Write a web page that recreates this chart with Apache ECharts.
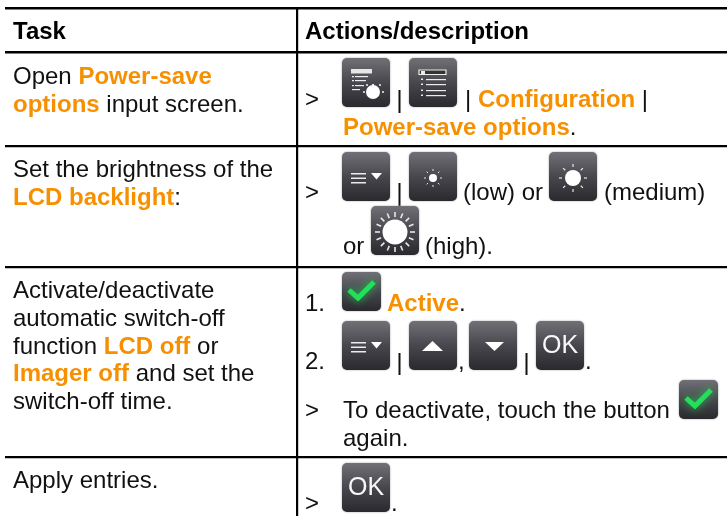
<!DOCTYPE html>
<html>
<head>
<meta charset="utf-8">
<style>
  html, body { margin: 0; padding: 0; background: #fff; }
  #main { width: 727px; height: 516px; }
</style>
<script src="https://cdn.jsdelivr.net/npm/echarts@6/dist/echarts.min.js"></script>
</head>
<body>
<div id="main"></div>
<script>
// table text, *...* marks the orange bold words
const headers = ['Task', 'Actions/description'];
const taskRow1 = ['Open *Power-save*', '*options* input screen.'];
const taskRow2 = ['Set the brightness of the', '*LCD backlight*:'];
const taskRow3 = ['Activate/deactivate', 'automatic switch-off', 'function *LCD off* or', '*Imager off* and set the', 'switch-off time.'];
const taskRow4 = ['Apply entries.'];
const actionRow1 = ['| *Configuration* |', '*Power-save options*.'];
const actionRow2 = ['(low) or', '(medium)', 'or', '(high).'];
const actionRow3 = ['1.', '*Active*.', '2.', 'To deactivate, touch the button', 'again.'];

const FONT = '"Liberation Sans", Arial, sans-serif';
const SIZE = 24;
const ORANGE = '#f79000';
const TEXT_COLOR = '#111';

const measure = document.createElement('canvas').getContext('2d');
const elements = [];

function textEl(str, x, baseline, bold, color, size) {
    const fs = size || SIZE;
    elements.push({
        type: 'text', x: x, y: baseline - fs * 0.27, silent: true,
        style: {
            text: str, fontFamily: FONT, fontSize: fs, fontWeight: bold ? 'bold' : 'normal',
            fill: color || TEXT_COLOR, verticalAlign: 'middle', align: 'left'
        }
    });
}

// one line, split in runs on the * signs
function line(str, x, baseline) {
    let cx = x;
    str.split('*').forEach(function (run, i) {
        if (!run) return;
        const bold = i % 2 === 1;
        measure.font = (bold ? 'bold ' : '') + SIZE + 'px "Liberation Sans"';
        textEl(run, cx, baseline, bold, bold ? ORANGE : TEXT_COLOR);
        cx += measure.measureText(run).width;
    });
}

function rule(x, y, w, h) {
    elements.push({ type: 'rect', silent: true, shape: { x: x, y: y, width: w, height: h }, style: { fill: '#000' } });
}

function sep(x, y1, y2) {
    elements.push({ type: 'rect', silent: true, shape: { x: x, y: y1, width: 2, height: y2 - y1 }, style: { fill: '#111' } });
}

const white = { fill: '#fff' };
function bar(x, y, w, h, op) {
    return { type: 'rect', shape: { x: x, y: y, width: w, height: h }, style: { fill: '#fff', opacity: op == null ? 0.9 : op } };
}
function sun(r, r1, r2, n, lw) {
    const out = [{ type: 'circle', shape: { cx: 24, cy: 26, r: r }, style: white }];
    for (let i = 0; i < n; i++) {
        const a = i * 2 * Math.PI / n;
        out.push({
            type: 'line',
            shape: { x1: 24 + r1 * Math.cos(a), y1: 26 + r1 * Math.sin(a), x2: 24 + r2 * Math.cos(a), y2: 26 + r2 * Math.sin(a) },
            style: { stroke: '#e8e8e8', lineWidth: lw }
        });
    }
    return out;
}
function menuGlyph() {
    return [bar(9, 21, 15, 1.5), bar(9, 25.5, 15, 1.5), bar(9, 30, 15, 1.5),
        { type: 'polygon', shape: { points: [[29, 21], [40, 21], [34.5, 27.5]] }, style: white }];
}
function okGlyph() {
    return [{
        type: 'text', x: 24, y: 25,
        style: { text: 'OK', fontFamily: FONT, fontSize: 25, fill: '#f8f8f8', align: 'center', verticalAlign: 'middle' }
    }];
}
function checkGlyph() {
    return [{
        type: 'polyline', shape: { points: [[7, 18], [16, 26], [32, 10]] },
        style: { stroke: '#22e05a', lineWidth: 5, fill: 'none', shadowBlur: 9, shadowColor: '#1fc24e' }
    }];
}
function pointerGlyph() {
    return [bar(9, 11, 21, 4.5, 0.85), bar(13, 18, 13, 1.2), bar(10, 18, 2, 1.2), bar(13, 22, 11, 1.2), bar(10, 22, 2, 1.2),
        bar(13, 27, 9, 1.2), bar(10, 27, 2, 1.2), bar(10, 31, 8, 1.2),
        { type: 'circle', shape: { cx: 31, cy: 34, r: 7 }, style: white },
        bar(30, 26, 2, 8), bar(24, 26, 2, 2, 0.7), bar(37, 26, 2, 2, 0.7), bar(21, 33, 2, 2, 0.7), bar(40, 33, 2, 2, 0.7)];
}
function listGlyph() {
    const out = [{ type: 'rect', shape: { x: 10, y: 12, width: 27, height: 4.5 }, style: { fill: '#333', stroke: '#eee', lineWidth: 1.2 } }, bar(12, 13, 4, 3)];
    [21, 26, 32, 37].forEach(function (y) {
        out.push(bar(17, y, 20, 1.2), bar(12, y - 0.4, 2, 1.5));
    });
    return out;
}

function icon(x, y, glyph, size) {
    const w = size || 48, h = size || 49;
    elements.push({
        type: 'group', x: x, y: y, silent: true,
        children: [{
            type: 'rect', shape: { x: 0, y: 0, width: w, height: h, r: 5 },
            style: {
                fill: new echarts.graphic.LinearGradient(0, 0, 0, 1, [
                    { offset: 0, color: '#707076' }, { offset: 0.5, color: '#47474d' }, { offset: 1, color: '#29292e' }
                ]),
                shadowBlur: 2, shadowColor: '#999'
            }
        }].concat(glyph)
    });
}

// table lines
rule(5, 7, 722, 2.4);
rule(5, 51, 722, 2.4);
rule(5, 145, 722, 2.2);
rule(5, 266, 722, 2.2);
rule(5, 456, 722, 2.2);
rule(296, 8, 2.2, 508);

// header
textEl(headers[0], 13, 39, true, '#000');
textEl(headers[1], 305, 39, true, '#000');

// left column
taskRow1.forEach(function (s, i) { line(s, 13, 84 + i * 28); });
taskRow2.forEach(function (s, i) { line(s, 13, 177 + i * 28); });
taskRow3.forEach(function (s, i) { line(s, 13, 298 + i * 27.7); });
taskRow4.forEach(function (s, i) { line(s, 13, 488 + i * 28); });

// right column, row 1
line('>', 305, 107);
icon(342, 58, pointerGlyph());
sep(398.5, 90, 113);
icon(409, 58, listGlyph());
line(actionRow1[0], 465, 107);
line(actionRow1[1], 343, 135);

// row 2
line('>', 305, 200);
icon(342, 152, menuGlyph());
sep(398.5, 183, 207);
icon(409, 152, sun(4, 7, 9, 8, 1));
line(actionRow2[0], 463, 200);
icon(549, 152, sun(8, 11, 14, 8, 1.2));
line(actionRow2[1], 604, 200);
line(actionRow2[2], 343, 254);
icon(371, 206, sun(12.5, 15, 20, 16, 1.6));
line(actionRow2[3], 425, 254);

// row 3
line(actionRow3[0], 305, 311);
icon(342, 272, checkGlyph(), 39);
line(actionRow3[1], 387, 311);
line(actionRow3[2], 305, 369);
icon(342, 321, menuGlyph());
sep(398.5, 353, 375);
icon(409, 321, [{ type: 'polygon', shape: { points: [[13, 30], [34, 30], [23.5, 20]] }, style: white }]);
line(',', 458, 369);
icon(469, 321, [{ type: 'polygon', shape: { points: [[16, 21], [35, 21], [25.5, 30]] }, style: white }]);
sep(525.5, 353, 375);
icon(536, 321, okGlyph());
line('.', 585, 369);
line('>', 305, 418);
line(actionRow3[3], 343, 418);
icon(679, 380, checkGlyph(), 39);
line(actionRow3[4], 343, 446);

// row 4
line('>', 305, 511);
icon(342, 463, okGlyph());
line('.', 391, 511);

const chart = echarts.init(document.getElementById('main'));
chart.setOption({
    animation: false,
    backgroundColor: '#fff',
    graphic: { elements: elements }
});
</script>
</body>
</html>
